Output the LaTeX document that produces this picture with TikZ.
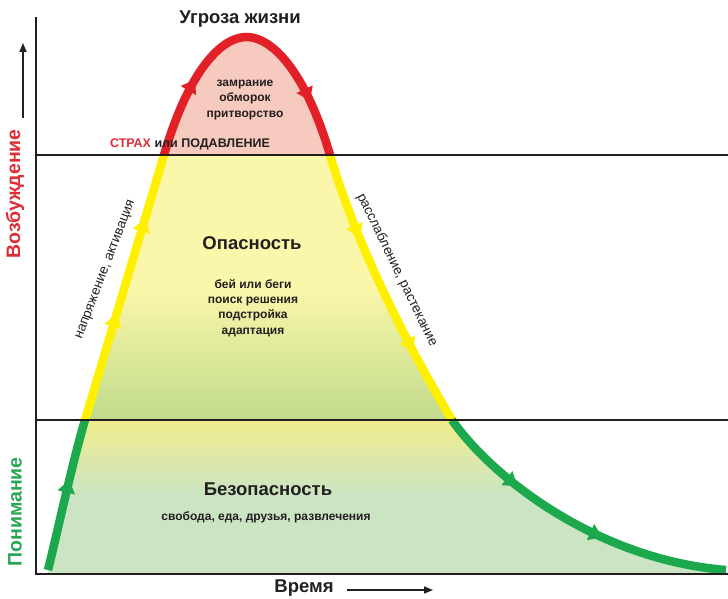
\documentclass[tikz,border=0pt]{standalone}
\usepackage{fontspec}
\setmainfont{Liberation Sans}
\usetikzlibrary{arrows.meta,decorations.markings}
\definecolor{cred}{RGB}{226,32,40}
\definecolor{cyel}{RGB}{255,240,0}
\definecolor{cgrn}{RGB}{28,168,76}
\definecolor{ctxt}{RGB}{35,31,32}
\definecolor{tred}{RGB}{222,45,55}
\definecolor{tgrn}{RGB}{40,165,85}
\definecolor{fpink}{RGB}{246,202,190}
\definecolor{fyel}{RGB}{250,246,170}
\definecolor{fyel2}{RGB}{240,236,140}
\definecolor{folive}{RGB}{192,218,138}
\definecolor{fmint}{RGB}{202,228,196}
\tikzset{
  curveline/.style={line width=8.5pt, line cap=butt},
  ahead/.style={decoration={markings, mark=at position #1 with {\arrow{Triangle[length=13pt,width=17pt]}}}, postaction={decorate}},
  axisline/.style={line width=1.8pt, ctxt},
  big/.style={font=\bfseries\fontsize{18.5}{21}\selectfont, text=ctxt},
  side/.style={font=\bfseries\fontsize{19.5}{21}\selectfont},
  small/.style={font=\bfseries\fontsize{12}{15.4}\selectfont, text=ctxt, align=center},
  slant/.style={font=\fontsize{13.5}{15}\selectfont, text=ctxt, inner sep=0pt}
}
\begin{document}
\begin{tikzpicture}[x=1pt,y=-1pt]
\fill[white] (0,0) rectangle (728,599);
\useasboundingbox (0,0) rectangle (728,599);
% area under the curve
\begin{scope}
\clip (48,574) -- (48,570) .. controls (56,538) and (73,460) .. (85,420) -- (164,155)
  .. controls (189,70) and (221.5,37) .. (246.5,37)
  .. controls (271.5,37) and (305,70) .. (330,155)
  .. controls (355,240) and (404,340) .. (452,420)
  .. controls (494,480) and (600,560) .. (726,570) -- (726,574) -- cycle;
\fill[fpink] (36,0) rectangle (728,155);
\shade[top color=fyel, bottom color=folive, middle color=fyel] (36,155) rectangle (728,421);
\shade[top color=fyel2, bottom color=fmint, middle color=fmint] (36,420) rectangle (728,574);
\end{scope}
% curve segments
\draw[curveline, cgrn, ahead=0.6] (48,570) .. controls (56,538) and (73,460) .. (85,420);
\draw[curveline, cyel, decoration={markings,
   mark=at position 0.4 with {\arrow{Triangle[length=13pt,width=17pt]}},
   mark=at position 0.76 with {\arrow{Triangle[length=13pt,width=17pt]}}}, postaction={decorate}]
   (85,420) -- (164,155);
\draw[curveline, cred, decoration={markings,
   mark=at position 0.27 with {\arrow{Triangle[length=13pt,width=17pt]}},
   mark=at position 0.81 with {\arrow{Triangle[length=13pt,width=17pt]}}}, postaction={decorate}]
   (164,155) .. controls (189,70) and (221.5,37) .. (246.5,37)
   .. controls (271.5,37) and (305,70) .. (330,155);
\draw[curveline, cyel, decoration={markings,
   mark=at position 0.3 with {\arrow{Triangle[length=13pt,width=17pt]}},
   mark=at position 0.73 with {\arrow{Triangle[length=13pt,width=17pt]}}}, postaction={decorate}]
   (330,155) .. controls (355,240) and (404,340) .. (452,420);
\draw[curveline, cgrn, decoration={markings,
   mark=at position 0.29 with {\arrow{Triangle[length=13pt,width=17pt]}},
   mark=at position 0.6 with {\arrow{Triangle[length=13pt,width=17pt]}}}, postaction={decorate}]
   (452,420) .. controls (494,480) and (600,560) .. (726,570);
% axes and zone lines
\coordinate (ytop) at (36,17);
\coordinate (orig) at (36,574);
\coordinate (xend) at (728,574);
\coordinate (l1a) at (36,155);
\coordinate (l1b) at (728,155);
\coordinate (l2a) at (36,420);
\coordinate (l2b) at (728,420);
\draw[axisline] (ytop) -- (orig) -- (xend);
\draw[axisline] (l1a) -- (l1b);
\draw[axisline] (l2a) -- (l2b);
% texts
\node[big] (threat) at (240,19) {Угроза жизни};
\node[small] (freeze) at (245,100) {замрание\\обморок\\притворство};
\node[font=\bfseries\fontsize{12.5}{15}\selectfont, text=ctxt] (fear) at (190,144) {\textcolor{tred}{СТРАХ} или ПОДАВЛЕНИЕ};
\node[big] (danger) at (252,243) {Опасность};
\node[small] (fight) at (253,308) {бей или беги\\поиск решения\\подстройка\\адаптация};
\node[big] (safe) at (268,489) {Безопасность};
\node[small] (free) at (266,517) {свобода, еда, друзья, развлечения};
\node[slant, rotate=69] (tension) at (106,270) {напряжение, активация};
\node[slant, rotate=-64] (relax) at (397,270) {расслабление, растекание};
\node[side, rotate=90, text=tred] (arousal) at (15,194) {Возбуждение};
\node[side, rotate=90, text=tgrn] (underst) at (15,512) {Понимание};
\node[big] (time) at (304,588) {Время};
% axis arrows
\coordinate (ta1) at (347,590);
\coordinate (ta2) at (433,590);
\coordinate (va1) at (23,118);
\coordinate (va2) at (23,43);
\draw[line width=1.5pt, ctxt, -{Triangle[length=9pt,width=7pt]}] (ta1) -- (ta2);
\draw[line width=1.5pt, ctxt, -{Triangle[length=9pt,width=7pt]}] (va1) -- (va2);
\end{tikzpicture}
\end{document}
